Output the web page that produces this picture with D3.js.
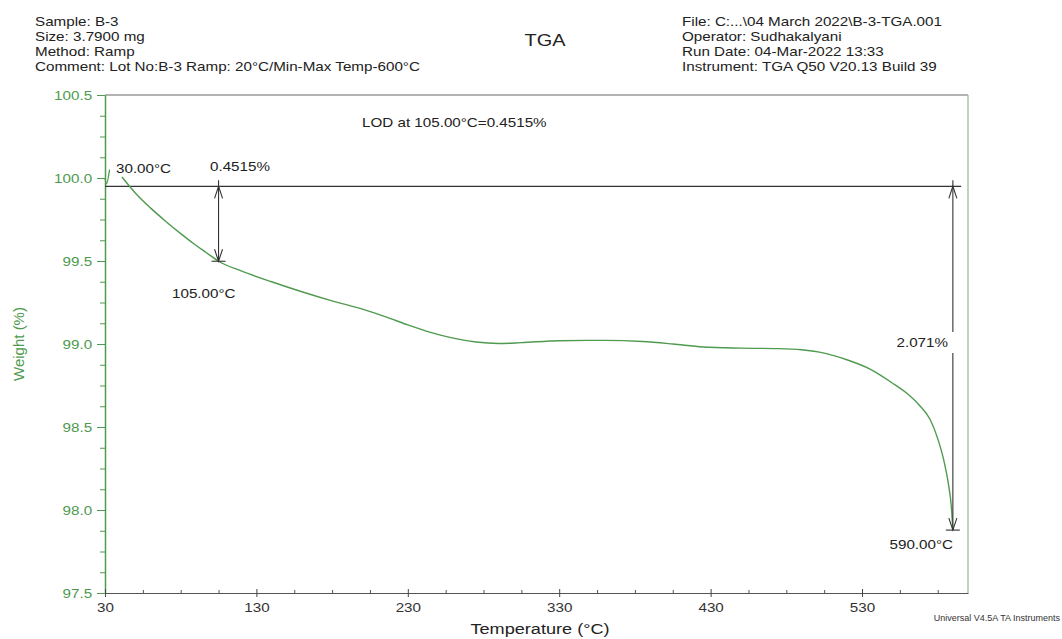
<!DOCTYPE html>
<html>
<head>
<meta charset="utf-8">
<script src="https://cdn.jsdelivr.net/npm/d3@7"></script>
<style>
  body { margin: 0; background: #fff; }
  text { font-family: "Liberation Sans", Arial, sans-serif; }
</style>
</head>
<body>
<div id="graph"></div>
<script>
// Courbe TGA : température (°C) et poids (%)
var temperatures = [41.2, 50, 60, 70, 80, 90, 97, 105, 120, 140, 160, 180, 200, 215, 230, 245, 260, 275, 290, 305, 330, 360, 385, 405, 425, 450, 475, 490, 505, 520, 535, 550, 560, 568, 575, 580, 584, 587, 589, 590];
var poids = [100.006, 99.91, 99.82, 99.74, 99.665, 99.595, 99.55, 99.4985, 99.44, 99.375, 99.315, 99.26, 99.21, 99.165, 99.115, 99.07, 99.035, 99.012, 99.003, 99.008, 99.02, 99.022, 99.015, 99.0, 98.982, 98.975, 98.972, 98.965, 98.945, 98.905, 98.85, 98.765, 98.70, 98.63, 98.545, 98.43, 98.30, 98.16, 98.02, 97.879];

// petit crochet au départ (30 °C)
var departTemp = [30, 31, 33];
var departPoids = [100.0, 99.965, 100.05];

// graduations
var ticksX = [30, 130, 230, 330, 430, 530];
var ticksXmineurs = [55, 80, 105, 155, 180, 205, 255, 280, 305, 355, 380, 405, 455, 480, 505, 555, 580];
var ticksY = [97.5, 98.0, 98.5, 99.0, 99.5, 100.0, 100.5];
var ticksYmineurs = [97.625, 97.75, 97.875, 98.125, 98.25, 98.375, 98.625, 98.75, 98.875, 99.125, 99.25, 99.375, 99.625, 99.75, 99.875, 100.125, 100.25, 100.375];

// annotations
var poidsRef = 99.95;
var pertes = [{ temp: 105, perte: 0.4515 }, { temp: 590, perte: 2.071 }];

var enteteGauche = ["Sample: B-3", "Size:  3.7900 mg", "Method: Ramp", "Comment: Lot No:B-3 Ramp: 20°C/Min-Max Temp-600°C"];
var enteteDroite = ["File: C:...\\04 March 2022\\B-3-TGA.001", "Operator: Sudhakalyani", "Run Date: 04-Mar-2022 13:33", "Instrument: TGA Q50 V20.13 Build 39"];

var vert = "#4f9a4f",
    etirement = 1.17;

var svg = d3.select("#graph").append("svg")
    .attr("width", 1062)
    .attr("height", 639);

// texte un peu étiré en largeur comme sur l'original
function texte(x, y, s, taille, ancre, couleur) {
  return svg.append("text")
      .attr("transform", "translate(" + x + "," + y + ") scale(" + etirement + ",1)")
      .attr("text-anchor", ancre || "start")
      .attr("font-size", taille)
      .attr("fill", couleur || "#222")
      .text(s);
}

var echelleX = d3.scaleLinear().domain([30, 600]).range([105, 968]);
var echelleY = d3.scaleLinear().domain([97.5, 100.5]).range([593, 95]);

// entête
enteteGauche.forEach(function(s, i) { texte(35, 26 + i * 15, s, 13); });
enteteDroite.forEach(function(s, i) { texte(682, 26 + i * 15, s, 13); });
texte(545, 46, "TGA", 17, "middle");

// cadre haut et droit
svg.append("line")
    .attr("x1", echelleX(30)).attr("x2", echelleX(600))
    .attr("y1", echelleY(100.5)).attr("y2", echelleY(100.5))
    .attr("stroke", "#9a9a9a").attr("stroke-width", 1.5);
svg.append("line")
    .attr("x1", echelleX(600)).attr("x2", echelleX(600))
    .attr("y1", echelleY(100.5)).attr("y2", echelleY(97.5))
    .attr("stroke", "#a6c6a6").attr("stroke-width", 1.5);

// axe Y
var axeY = svg.append("g")
    .attr("transform", "translate(" + echelleX(30) + ",0)")
    .call(d3.axisLeft(echelleY).tickValues(ticksY).tickFormat(d3.format(".1f")).tickSize(8).tickSizeOuter(0));
axeY.select(".domain").attr("stroke", vert).attr("stroke-width", 1.5);
axeY.selectAll(".tick line").attr("stroke", vert);
axeY.selectAll(".tick text")
    .attr("fill", vert).attr("font-size", 13)
    .attr("font-family", "Liberation Sans, Arial, sans-serif")
    .attr("transform", "scale(" + etirement + ",1)");
svg.append("g")
    .attr("transform", "translate(" + echelleX(30) + ",0)")
    .call(d3.axisLeft(echelleY).tickValues(ticksYmineurs).tickFormat("").tickSize(5).tickSizeOuter(0))
  .call(function(g) { g.select(".domain").remove(); g.selectAll("line").attr("stroke", vert); });

// axe X
var axeX = svg.append("g")
    .attr("transform", "translate(0," + echelleY(97.5) + ")")
    .call(d3.axisBottom(echelleX).tickValues(ticksX).tickSize(4).tickPadding(6).tickSizeOuter(0));
axeX.select(".domain").attr("stroke", "#555").attr("stroke-width", 1.2);
axeX.selectAll(".tick line").attr("y1", -4).attr("stroke", "#444");
axeX.selectAll(".tick text")
    .attr("fill", "#333").attr("font-size", 13)
    .attr("font-family", "Liberation Sans, Arial, sans-serif")
    .attr("transform", "scale(" + etirement + ",1)");
svg.append("g")
    .attr("transform", "translate(0," + echelleY(97.5) + ")")
    .call(d3.axisBottom(echelleX).tickValues(ticksXmineurs).tickFormat("").tickSize(1).tickSizeOuter(0))
  .call(function(g) { g.select(".domain").remove(); g.selectAll("line").attr("y1", -3).attr("stroke", "#555"); });

// titres des axes
svg.append("text")
    .attr("transform", "translate(24,344) rotate(-90)")
    .attr("text-anchor", "middle")
    .attr("font-size", 15)
    .attr("fill", vert)
    .text("Weight (%)");
texte(540, 634, "Temperature (°C)", 15.5, "middle");
svg.append("text")
    .attr("x", 1060).attr("y", 621)
    .attr("text-anchor", "end")
    .attr("font-size", 9)
    .attr("fill", "#333")
    .text("Universal V4.5A TA Instruments");

// ligne de référence
svg.append("line")
    .attr("x1", echelleX(30)).attr("x2", echelleX(595.5))
    .attr("y1", echelleY(poidsRef)).attr("y2", echelleY(poidsRef))
    .attr("stroke", "#333").attr("stroke-width", 1.2);

// courbe
var ligne = d3.line()
    .x(function(d) { return echelleX(d[0]); })
    .y(function(d) { return echelleY(d[1]); })
    .curve(d3.curveMonotoneX);

svg.append("path")
    .attr("d", ligne(d3.zip(departTemp, departPoids)))
    .attr("fill", "none").attr("stroke", vert).attr("stroke-width", 1.3);
svg.append("path")
    .attr("d", ligne(d3.zip(temperatures, poids)))
    .attr("fill", "none").attr("stroke", vert).attr("stroke-width", 1.4);

// flèches de perte de masse
pertes.forEach(function(p) {
  var x = echelleX(p.temp),
      yh = echelleY(poidsRef),
      yb = echelleY(poidsRef - p.perte);
  var g = svg.append("g").attr("stroke", "#333").attr("fill", "none").attr("stroke-width", 1.1);
  g.append("line").attr("x1", x).attr("x2", x).attr("y1", yh - 6).attr("y2", yb);
  g.append("path").attr("d", "M" + (x - 4) + "," + (yh + 12) + "L" + x + "," + yh + "L" + (x + 4) + "," + (yh + 12));
  g.append("path").attr("d", "M" + (x - 4) + "," + (yb - 12) + "L" + x + "," + yb + "L" + (x + 4) + "," + (yb - 12));
  g.append("line").attr("x1", x - 7).attr("x2", x + 7).attr("y1", yb).attr("y2", yb);
});

// étiquettes
texte(116, 173, "30.00°C", 13);
texte(210, 171, "0.4515%", 13);
texte(172, 298, "105.00°C", 13);
texte(362, 127, "LOD at 105.00°C=0.4515%", 13);
svg.append("rect")
    .attr("x", 896).attr("y", 332).attr("width", 60).attr("height", 21)
    .attr("fill", "#fff");
texte(948, 347, "2.071%", 13, "end");
texte(953, 549, "590.00°C", 13, "end");
</script>
</body>
</html>
